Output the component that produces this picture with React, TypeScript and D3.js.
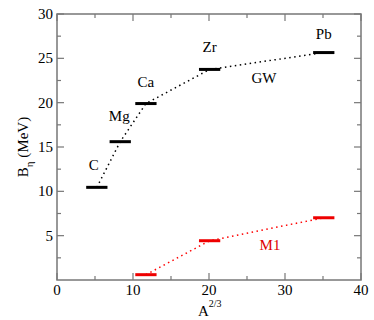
import * as d3 from 'd3'

const gwNuclei = ['C', 'Mg', 'Ca', 'Zr', 'Pb']
const gwX = [5.24, 8.32, 11.7, 20.08, 35.1]
const gwY = [10.45, 15.6, 19.9, 23.75, 25.65]

const m1X = [11.7, 20.08, 35.1]
const m1Y = [0.6, 4.43, 7.02]

const xTicks = [0, 10, 20, 30, 40]
const yTicks = [5, 10, 15, 20, 25, 30]

const W = 374
const H = 320
const margin = { left: 57, right: 13, top: 14, bottom: 40 }
const halfBar = 1.4
const axisColor = '#777'
const font = "'Liberation Serif', 'Times New Roman', Times, 'DejaVu Serif', serif"

export default function App() {
  const x = d3.scaleLinear().domain([0, 40]).range([margin.left, W - margin.right])
  const y = d3.scaleLinear().domain([0, 30]).range([H - margin.bottom, margin.top])
  const [x0, x1] = x.range()
  const [y0, y1] = y.range()

  const line = d3.line<[number, number]>().x(d => x(d[0])).y(d => y(d[1]))
  const gwPts = gwX.map((v, i) => [v, gwY[i]] as [number, number])
  const m1Pts = m1X.map((v, i) => [v, m1Y[i]] as [number, number])

  const xMinor = d3.range(5, 40, 10)
  const yMinor = d3.range(2.5, 30, 5)

  // label offsets in px relative to each bar center
  const labelPos: Record<string, [number, number]> = {
    C: [-3, -17], Mg: [-1, -21], Ca: [0, -17], Zr: [0, -17], Pb: [0, -14]
  }

  return (
    <svg width={W} height={H} style={{ position: 'absolute', left: 0, top: 0, fontFamily: font }}>
      <rect width={W} height={H} fill="#fff" />
      {/* frame */}
      <rect x={x0} y={y1} width={x1 - x0} height={y0 - y1} fill="none" stroke={axisColor} strokeWidth={1.5} />
      {xTicks.map(t => (
        <g key={'xt' + t}>
          <line x1={x(t)} x2={x(t)} y1={y0} y2={y0 - 7} stroke={axisColor} strokeWidth={1.2} />
          <line x1={x(t)} x2={x(t)} y1={y1} y2={y1 + 7} stroke={axisColor} strokeWidth={1.2} />
          <text x={x(t)} y={295} textAnchor="middle" fontSize={15}>{t}</text>
        </g>
      ))}
      {xMinor.map(t => (
        <g key={'xm' + t}>
          <line x1={x(t)} x2={x(t)} y1={y0} y2={y0 - 4} stroke={axisColor} strokeWidth={1.2} />
          <line x1={x(t)} x2={x(t)} y1={y1} y2={y1 + 4} stroke={axisColor} strokeWidth={1.2} />
        </g>
      ))}
      {yTicks.map(t => (
        <g key={'yt' + t}>
          <line x1={x0} x2={x0 + 7} y1={y(t)} y2={y(t)} stroke={axisColor} strokeWidth={1.2} />
          <line x1={x1} x2={x1 - 7} y1={y(t)} y2={y(t)} stroke={axisColor} strokeWidth={1.2} />
          <text x={53} y={y(t) + 5} textAnchor="end" fontSize={15}>{t}</text>
        </g>
      ))}
      {yMinor.map(t => (
        <g key={'ym' + t}>
          <line x1={x0} x2={x0 + 4} y1={y(t)} y2={y(t)} stroke={axisColor} strokeWidth={1.2} />
          <line x1={x1} x2={x1 - 4} y1={y(t)} y2={y(t)} stroke={axisColor} strokeWidth={1.2} />
        </g>
      ))}

      {/* dotted connecting lines */}
      <path d={line(gwPts) ?? ''} fill="none" stroke="#000" strokeWidth={1.5} strokeDasharray="1.5 3.5" />
      <path d={line(m1Pts) ?? ''} fill="none" stroke="#f00" strokeWidth={1.5} strokeDasharray="1.5 3.5" />

      {/* bars */}
      {gwPts.map(([a, b], i) => (
        <line key={'gw' + i} x1={x(a - halfBar)} x2={x(a + halfBar)} y1={y(b)} y2={y(b)} stroke="#000" strokeWidth={3} />
      ))}
      {m1Pts.map(([a, b], i) => (
        <line key={'m1' + i} x1={x(a - halfBar)} x2={x(a + halfBar)} y1={y(b)} y2={y(b)} stroke="#e00" strokeWidth={3} />
      ))}

      {gwNuclei.map((n, i) => (
        <text key={n} x={x(gwX[i]) + labelPos[n][0]} y={y(gwY[i]) + labelPos[n][1]} textAnchor="middle" fontSize={15}>{n}</text>
      ))}
      <text x={264} y={83} textAnchor="middle" fontSize={15}>GW</text>
      <text x={270} y={250} textAnchor="middle" fontSize={15} fill="#d00">M1</text>

      {/* axis titles */}
      <text x={198} y={316} fontSize={15}>A<tspan dy={-9} fontSize={10}>2/3</tspan></text>
      <text transform="translate(28,147) rotate(-90)" textAnchor="middle" fontSize={15}>
        B<tspan dy={5} fontSize={11}>η</tspan><tspan dy={-5}> (MeV)</tspan>
      </text>
    </svg>
  )
}
